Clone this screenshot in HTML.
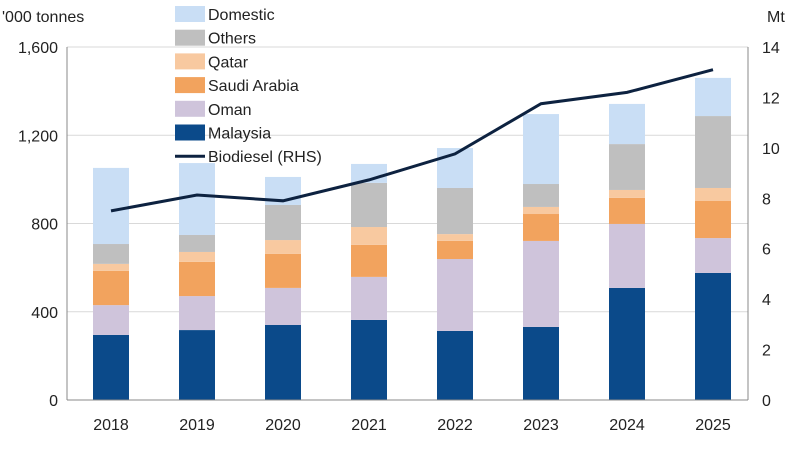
<!DOCTYPE html>
<html><head><meta charset="utf-8"><style>
body{margin:0;background:#fff;font-family:"Liberation Sans",sans-serif;}
svg text{font-family:"Liberation Sans",sans-serif;fill:#222;}
</style></head><body>
<svg id="chart" width="800" height="445" viewBox="0 0 800 445" xmlns="http://www.w3.org/2000/svg">
<g id="grid"></g><g id="bars"></g><g id="line"></g><g id="axes"></g><g id="legend"></g>
</svg>
<script>
const years=["2018","2019","2020","2021","2022","2023","2024","2025"];
const malaysia=[295,317,340,363,313,331,508,576];
const oman=[135,154,168,195,326,390,290,158];
const saudi=[155,155,154,145,82,122,118,168];
const qatar=[32,45,63,81,31,32,36,59];
const others=[90,77,159,200,209,104,208,326];
const domestic=[345,326,127,86,181,317,182,173];
const biodiesel=[7.5,8.13,7.9,8.73,9.76,11.75,12.2,13.1];
const leftTicks=[0,400,800,1200,1600];
const rightTicks=[0,2,4,6,8,10,12,14];
const series=[
 {name:"Malaysia",vals:malaysia,color:"#0b4a8a"},
 {name:"Oman",vals:oman,color:"#cfc4db"},
 {name:"Saudi Arabia",vals:saudi,color:"#f2a35e"},
 {name:"Qatar",vals:qatar,color:"#f8c9a0"},
 {name:"Others",vals:others,color:"#bfbfbf"},
 {name:"Domestic",vals:domestic,color:"#c9def5"}];
const NS="http://www.w3.org/2000/svg";
const x0=67,x1=748,yB=400,yT=47;
const yL=v=>yB-(v/1600)*(yB-yT);
const yR=v=>yB-(v/14)*(yB-yT);
const xC=i=>111+i*86;
function mk(tag,attrs,parent){const e=document.createElementNS(NS,tag);for(const k in attrs)e.setAttribute(k,attrs[k]);parent.appendChild(e);return e;}
const grid=document.getElementById('grid'),axes=document.getElementById('axes'),bars=document.getElementById('bars'),line=document.getElementById('line'),legend=document.getElementById('legend');
leftTicks.forEach(t=>{
 if(t>0){const g=mk('line',{x1:x0,x2:x1,y1:yL(t),y2:yL(t),stroke:'#d9d9d9','stroke-width':1},grid);
 
 }
 const tx=mk('text',{x:58,y:yL(t)+6,'text-anchor':'end','font-size':16},axes);tx.textContent=t.toLocaleString('en-US');
 
 
});
rightTicks.forEach(t=>{
 const tx=mk('text',{x:762,y:yR(t)+6,'font-size':16},axes);tx.textContent=t;
 
 
});
years.forEach((y,i)=>{
 let cum=0;
 series.forEach(s=>{
  const v=s.vals[i];const r=mk('rect',{x:xC(i)-18,width:36,y:yL(cum+v),height:yL(cum)-yL(cum+v),fill:s.color},bars);
  
  
  cum+=v;
 });
 const tx=mk('text',{x:xC(i),y:430,'text-anchor':'middle','font-size':16},axes);tx.textContent=y;
 
 
});
const p=mk('polyline',{points:biodiesel.map((v,i)=>xC(i)+','+yR(v)).join(' '),fill:'none',stroke:'#0d2240','stroke-width':3},line);


[[x0,yT,x0,yB],[x1,yT,x1,yB],[x0,yB,x1,yB]].forEach(a=>{const l=mk('line',{x1:a[0],y1:a[1],x2:a[2],y2:a[3],stroke:'#888','stroke-width':1},axes);
 
 });
const lt=mk('text',{x:2,y:22,'font-size':16},axes);lt.textContent="'000 tonnes";


const rt=mk('text',{x:767,y:22,'font-size':16},axes);rt.textContent="Mt";


const leg=[...series].reverse();
leg.forEach((s,k)=>{
 const cy=14+k*23.7;
 const r=mk('rect',{x:175,y:cy-8,width:30,height:16,fill:s.color},legend);
 
 
 const t=mk('text',{x:208,y:cy+6,'font-size':16},legend);t.textContent=s.name;
 
 
});
const cy=14+6*23.7;
const ll=mk('line',{x1:175,x2:205,y1:cy,y2:cy,stroke:'#0d2240','stroke-width':3},legend);


const lt2=mk('text',{x:208,y:cy+6,'font-size':16},legend);lt2.textContent="Biodiesel (RHS)";


</script>
</body></html>
